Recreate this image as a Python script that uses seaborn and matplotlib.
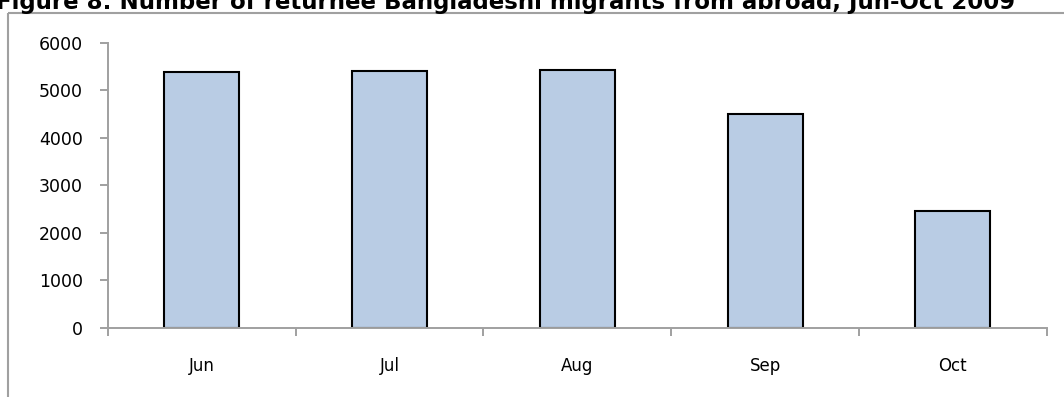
import matplotlib
matplotlib.use("Agg")
import matplotlib.pyplot as plt
from matplotlib.lines import Line2D
import numpy as np
import seaborn as sns

months = ["Jun", "Jul", "Aug", "Sep", "Oct"]
returnees = [5385, 5410, 5420, 4490, 2460]
y_ticks = [0, 1000, 2000, 3000, 4000, 5000, 6000]
title = "Figure 8: Number of returnee Bangladeshi migrants from abroad, Jun-Oct 2009"

sns.set_theme(style="white")
plt.rcParams["font.family"] = ["DejaVu Sans"]

W, H = 1064, 397
fig = plt.figure(figsize=(W / 100, H / 100), dpi=100)
ax = fig.add_axes([108 / W, (H - 327.7) / H, (1046.7 - 108) / W, (327.7 - 42.7) / H])

sns.barplot(x=months, y=returnees, color="#b9cce4", saturation=1,
            edgecolor="black", linewidth=1.5, width=0.4, ax=ax)

ax.set_xlim(-0.5, len(months) - 0.5)
ax.set_ylim(0, 6000)
ax.set_yticks(y_ticks)
ax.set_yticklabels([str(v) for v in y_ticks])
ax.set_xlabel("")
ax.set_ylabel("")

axis_grey = "#a0a0a0"
for side in ("top", "right"):
    ax.spines[side].set_visible(False)
for side in ("left", "bottom"):
    ax.spines[side].set_color(axis_grey)
    ax.spines[side].set_linewidth(1.4)

# category boundaries carry the tick marks, labels sit at the centres
ax.set_xticks(np.arange(-0.5, len(months), 1.0), minor=True)
ax.tick_params(axis="x", which="both", bottom=True)
ax.tick_params(axis="y", which="major", left=True)
ax.tick_params(axis="x", which="major", length=0, pad=21, labelsize=12, colors="black")
ax.tick_params(axis="x", which="minor", length=6, width=1.4, color=axis_grey, direction="out")
ax.tick_params(axis="y", which="major", length=6, width=1.4, color=axis_grey,
               direction="out", pad=12, labelsize=12.5, labelcolor="black")

# chart frame
frame_kw = dict(transform=fig.transFigure, color=axis_grey, lw=1.5, solid_capstyle="butt")
fig.add_artist(Line2D([8 / W, 1.0], [1 - 13 / H, 1 - 13 / H], **frame_kw))
fig.add_artist(Line2D([8 / W, 8 / W], [0.0, 1 - 13 / H], **frame_kw))

# heading running across the top edge
t = fig.text(-4 / W, 1 - 9.5 / H, title, fontweight="bold", fontsize=15,
             ha="left", va="baseline", color="black")
fig.canvas.draw()
ext = t.get_window_extent(fig.canvas.get_renderer())
t.set_fontsize(15 * (1018 + 4) / ext.width)

fig.savefig("out.png", dpi=100)
